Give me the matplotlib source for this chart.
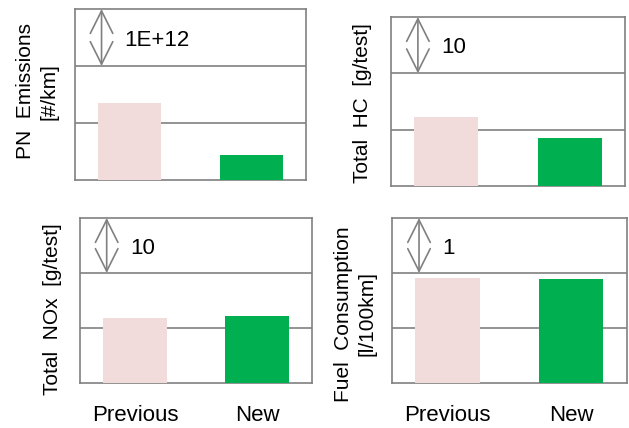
import matplotlib
matplotlib.use('Agg')
import matplotlib.pyplot as plt

plt.rcParams['font.family'] = ['Liberation Sans', 'DejaVu Sans']

categories = ['Previous', 'New']

# bar heights, expressed in steps of each panel's scale arrow
pn_vals = [1.35, 0.44]
hc_vals = [1.23, 0.85]
nox_vals = [1.18, 1.22]
fuel_vals = [1.91, 1.89]

scale_labels = ['1E+12', '10', '10', '1']
ylabels = ['PN  Emissions\n[#/km]', 'Total  HC  [g/test]',
           'Total  NOx  [g/test]', 'Fuel  Consumption\n[l/100km]']

colors = ['#F2DCDB', '#00B050']
edge = '#808080'

fig = plt.figure(figsize=(6.29, 4.28), dpi=100)

positions = [
    [0.1192, 0.5794, 0.3672, 0.3995],
    [0.6216, 0.5654, 0.3720, 0.3949],
    [0.1272, 0.1051, 0.3688, 0.3855],
    [0.6232, 0.1051, 0.3736, 0.3855],
]
label_x = [-0.165, -0.12, -0.12, -0.156]
label_y = [0.52, 0.488, 0.45, 0.42]

panels = [pn_vals, hc_vals, nox_vals, fuel_vals]

for i, vals in enumerate(panels):
    ax = fig.add_axes(positions[i])
    x = range(len(categories))
    ax.bar(x, vals, width=0.52, color=colors, zorder=3)
    ax.set_xlim(-0.45, 1.45)
    ax.set_ylim(0, 3)
    ax.set_yticks([1, 2])
    ax.set_yticklabels([])
    ax.tick_params(axis='y', length=0)
    ax.grid(axis='y', color=edge, linewidth=1.2, zorder=1)
    for sp in ax.spines.values():
        sp.set_color(edge)
        sp.set_linewidth(1.2)

    if i >= 2:
        ax.set_xticks(list(x))
        ax.set_xticklabels(categories, fontsize=16)
        ax.tick_params(axis='x', length=0, pad=16)
    else:
        ax.set_xticks([])

    # scale arrow spanning one grid step
    ax_x = -0.45 + 0.115 * 1.9
    ax.annotate('', xy=(ax_x, 3), xytext=(ax_x, 2),
                arrowprops=dict(arrowstyle='<->,head_length=0.6,head_width=0.3',
                                color=edge, lw=1.2, shrinkA=0, shrinkB=0,
                                mutation_scale=27))
    ax.text(-0.45 + 0.215 * 1.9, 2.45, scale_labels[i], fontsize=16,
            ha='left', va='center')

    ax.text(label_x[i], label_y[i], ylabels[i], transform=ax.transAxes,
            rotation=90, ha='center', va='center', fontsize=15,
            multialignment='center', linespacing=1.3)

fig.savefig('out.png', dpi=100)
